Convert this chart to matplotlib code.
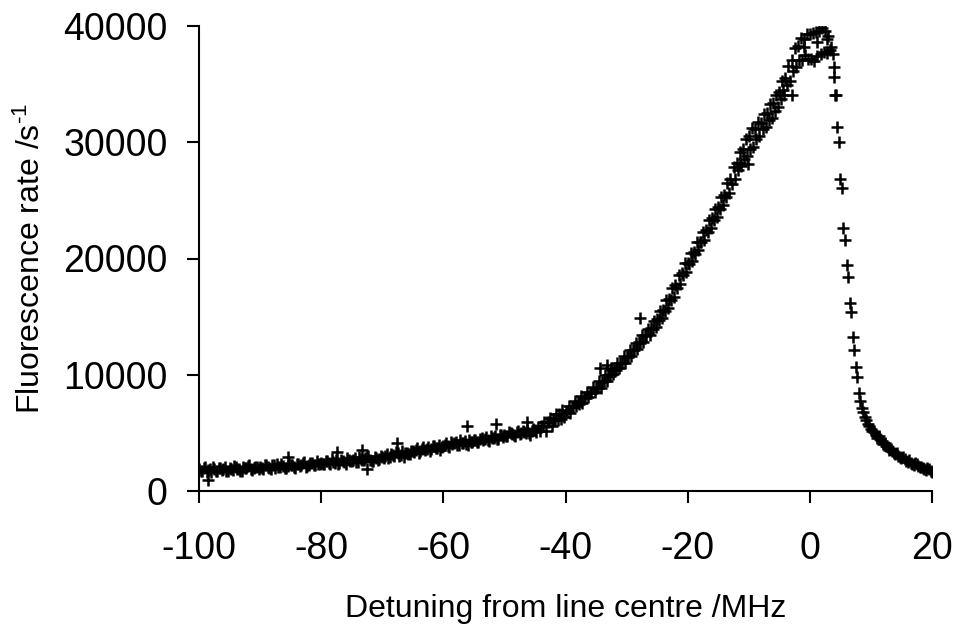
import numpy as np
import matplotlib
matplotlib.use('Agg')
import matplotlib.pyplot as plt

plt.rcParams['font.family'] = ['Liberation Sans', 'DejaVu Sans']
plt.rcParams['mathtext.fontset'] = 'custom'
plt.rcParams['mathtext.rm'] = 'Liberation Sans'
plt.rcParams['mathtext.default'] = 'regular'
plt.rcParams['axes.unicode_minus'] = False

# scan A: detuning -100 .. 20 MHz, 0.5 MHz steps
scan_a_start, scan_a_step = -100.0, 0.5
rate_a = [
    1850, 1700, 2050, 1800, 1650, 1900, 1750, 2000, 1850, 1700,
    1950, 1800, 2100, 1900, 1750, 2000, 2150, 1850, 1950, 2050,
    2100, 1900, 2200, 2000, 2250, 1950, 2100, 2300, 2000, 2150,
    2200, 2050, 2350, 2150, 2400, 2100, 2250, 2450, 2200, 2300,
    2450, 2300, 2600, 2350, 2500, 2700, 2400, 2550, 2350, 2650,
    2600, 2800, 2500, 2750, 2650, 2900, 2700, 2550, 2850, 2750,
    2900, 3050, 2800, 3150, 3000, 3250, 3100, 2950, 3300, 3200,
    3400, 3550, 3300, 3650, 3500, 3750, 3600, 3850, 3700, 3550,
    3900, 4100, 3800, 4050, 4200, 3950, 4150, 4300, 4000, 4250,
    4350, 4200, 4500, 4400, 4650, 4300, 4550, 4700, 4450, 4800,
    4850, 4700, 5000, 4800, 5100, 4900, 5150, 5000, 4950, 5200,
    5250, 5500, 5550, 5900, 5900, 6300, 6200, 6650, 6600, 6950,
    6900, 7350, 7200, 7700, 7650, 8150, 8050, 8500, 8450, 8950,
    8850, 9450, 9400, 10000, 9950, 10550, 10450, 11050, 11000, 11600,
    11550, 12150, 12150, 12750, 12800, 13400, 13400, 13950, 14000, 14650,
    14800, 15500, 15550, 16400, 16550, 17500, 17750, 18600, 18750, 19600,
    19650, 20500, 20550, 21400, 21450, 22300, 22450, 23300, 23450, 24300,
    24450, 25300, 25450, 26500, 26850, 27900, 28250, 29200, 29450, 30300,
    30550, 31200, 31150, 31700, 31650, 32400, 32550, 33300, 33350, 34100,
    34350, 35300, 35550, 36600, 37050, 38100, 38250, 39000, 38850, 39300,
    39300, 39400, 39500, 39600, 39800, 39600, 39100, 38200, 36500, 31300,
    26800, 22600, 19400, 16200, 13250, 10700, 8400, 7100, 6400, 5800,
    5300, 5050, 4600, 4450, 4050, 3850, 3550, 3450, 3150, 3050,
    2800, 2750, 2500, 2450, 2250, 2300, 2050, 1950, 1800, 1850,
    1600,
]

# scan B: detuning -99.75 .. 19.75 MHz, 0.5 MHz steps
scan_b_start, scan_b_step = -99.75, 0.5
rate_b = [
    1750, 2000, 1600, 1900, 2100, 1700, 1950, 1800, 2050, 1750,
    1850, 2150, 1900, 1700, 2050, 1950, 2200, 1800, 2100, 1900,
    2000, 2250, 2050, 1850, 2200, 2350, 2050, 2150, 1950, 2300,
    2250, 2000, 2350, 2200, 2500, 2150, 2400, 2250, 2550, 2350,
    2300, 2550, 2400, 2750, 2450, 2300, 2650, 2500, 2800, 2550,
    2700, 2500, 2900, 2650, 2800, 3000, 2600, 2950, 2700, 3050,
    2850, 3200, 2950, 3100, 3350, 3050, 3400, 3250, 3150, 3450,
    3350, 3700, 3450, 3800, 3600, 3450, 3900, 3700, 3950, 3800,
    4000, 3850, 4200, 4100, 3950, 4350, 4150, 4050, 4400, 4200,
    4400, 4250, 4600, 4500, 4350, 4750, 4550, 4450, 4850, 4650,
    4750, 5050, 4900, 4750, 5150, 4950, 5050, 5250, 4850, 5300,
    5100, 5200, 5600, 5200, 5900, 5550, 6100, 6150, 6200, 6400,
    6800, 6750, 7200, 7300, 7450, 7600, 8000, 8100, 8400, 8500,
    8850, 8900, 9450, 9450, 9900, 10050, 10400, 10550, 11000, 11050,
    11500, 11650, 12150, 12250, 12700, 12800, 13350, 13400, 13950, 14100,
    14700, 14900, 15450, 15700, 16400, 16700, 17500, 17800, 18550, 18850,
    19500, 19800, 20400, 20700, 21400, 21600, 22300, 22600, 23300, 23600,
    24300, 24600, 25300, 25600, 26400, 26800, 27600, 28000, 28600, 28800,
    29400, 29600, 30300, 30500, 31100, 31300, 31900, 32100, 32700, 33000,
    33700, 34100, 34900, 35300, 36100, 36500, 37100, 37100, 37500, 37200,
    37200, 37000, 37400, 37600, 37800, 37700, 37900, 37600, 34100, 30000,
    26100, 21600, 18400, 15400, 12100, 9800, 7700, 6800, 6100, 5600,
    5200, 4850, 4700, 4300, 4150, 3750, 3650, 3300, 3250, 2950,
    2900, 2600, 2650, 2350, 2400, 2150, 2100, 1900, 1950, 1700,
]

# stray points off the main band
stray_x = [-98.5, -72.5, -85.4, -77.4, -73.3, -67.6, -56.1, -51.4, -46.3,
           -34.3, -33.2, -27.8, -11.4, -10.2, -4.4, -3.0, -1.0, 1.2, 2.8,
           3.9, 4.1]
stray_y = [950, 1900, 2900, 3350, 3500, 4100, 5600, 5750, 5950,
           10600, 10800, 14900, 28200, 28100, 34500, 34100, 38200, 38600, 38900,
           35600, 34100]

det_a = scan_a_start + scan_a_step * np.arange(len(rate_a))
det_b = scan_b_start + scan_b_step * np.arange(len(rate_b))

fig = plt.figure(figsize=(9.58, 6.25), dpi=100)
ax = fig.add_axes([0.2077, 0.2144, 0.7652, 0.744])

mk = dict(ls='none', marker='+', ms=8, mew=1.8, color='black')
ax.plot(det_a, rate_a, **mk)
ax.plot(det_b, rate_b, **mk)
ax.plot(stray_x, stray_y, **mk)

ax.set_xlim(-100, 20)
ax.set_ylim(0, 40000)
ax.set_xticks([-100, -80, -60, -40, -20, 0, 20])
ax.set_yticks([0, 10000, 20000, 30000, 40000])
for s in ['top', 'right']:
    ax.spines[s].set_visible(False)
for s in ['left', 'bottom']:
    ax.spines[s].set_linewidth(1.5)
ax.tick_params(direction='out', length=8.5, width=1.5, labelsize=27)
ax.tick_params(axis='y', pad=14)
ax.tick_params(axis='x', pad=20)
ax.set_xlabel('Detuning from line centre /MHz', fontsize=23, labelpad=20)
ax.set_ylabel(r'Fluorescence rate /s$^{\text{-}1}$', fontsize=23, labelpad=12)

fig.savefig('out.png', dpi=100)
